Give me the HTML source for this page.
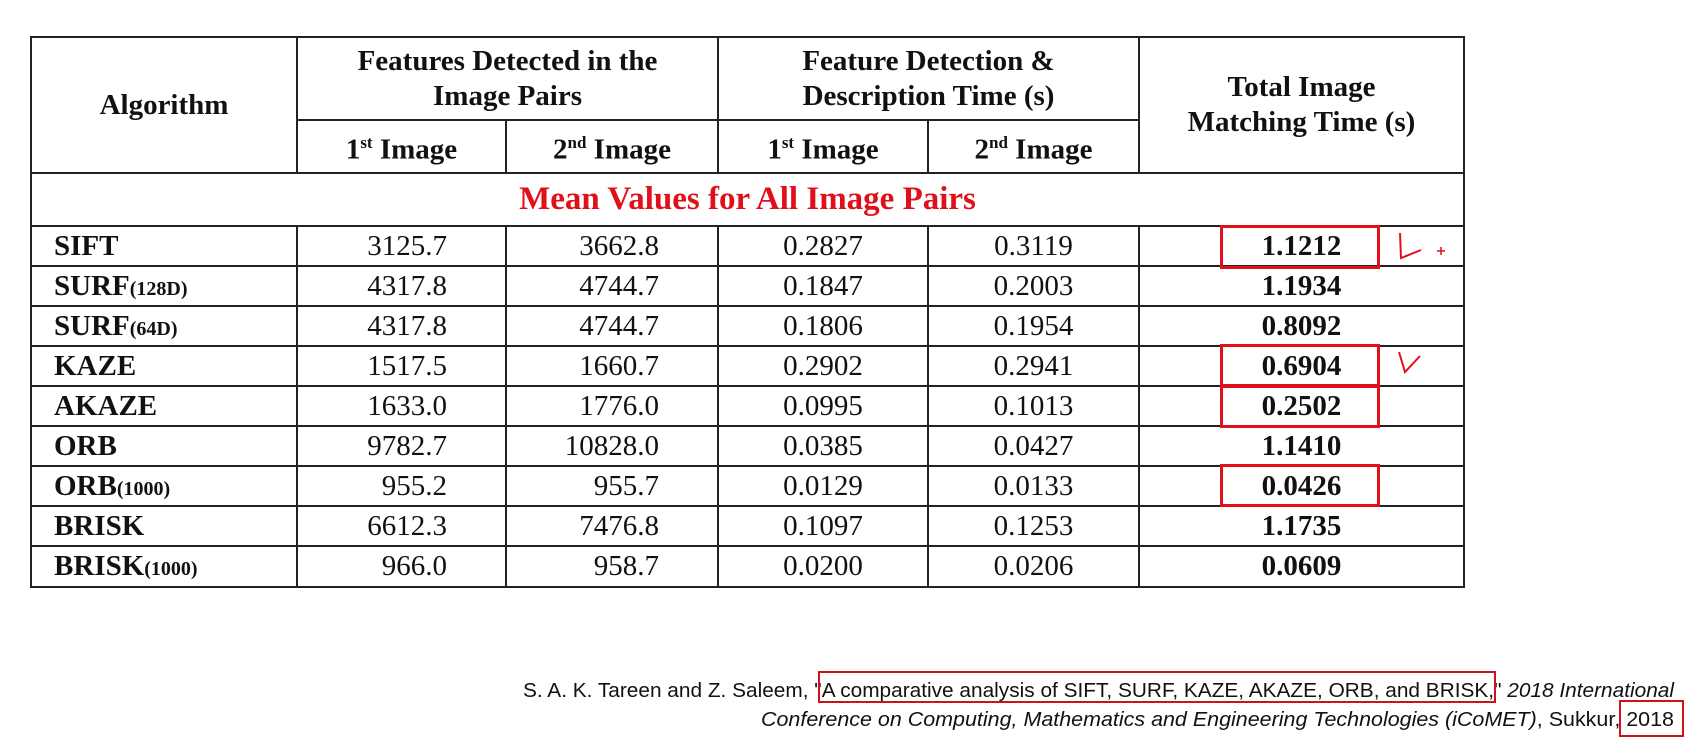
<!DOCTYPE html>
<html><head><meta charset="utf-8">
<style>
body{margin:0;width:1704px;height:744px;background:#fff;position:relative;overflow:hidden;font-family:"Liberation Serif",serif;}
.t{position:absolute;left:30px;top:36px;border-collapse:collapse;color:#111;}
.t td{border:2px solid #222;padding:0;text-align:center;font-size:29px;}
.h{font-weight:bold;font-size:30px;line-height:35px;}
.alg{text-align:left!important;padding-left:22px!important;font-weight:bold;}
.alg small{font-size:20px;}
.num{text-align:right!important;padding-right:58px!important;}
.b{font-weight:bold;}
.mean{color:#e0101a;font-weight:bold;font-size:33px!important;}
.box{position:absolute;border:3px solid #e0101a;box-sizing:border-box;}
sup{font-size:17px;}
</style></head><body>
<table class="t">
<colgroup><col style="width:266px"><col style="width:209px"><col style="width:212px"><col style="width:210px"><col style="width:211px"><col style="width:325px"></colgroup>
<tr style="height:83px"><td rowspan="2" class="h">Algorithm</td><td colspan="2" class="h">Features Detected in the<br>Image Pairs</td><td colspan="2" class="h">Feature Detection &amp;<br>Description Time (s)</td><td rowspan="2" class="h">Total Image<br>Matching Time (s)</td></tr>
<tr style="height:53px"><td class="h">1<sup>st</sup> Image</td><td class="h">2<sup>nd</sup> Image</td><td class="h">1<sup>st</sup> Image</td><td class="h">2<sup>nd</sup> Image</td></tr>
<tr style="height:53px"><td colspan="6" class="mean">Mean Values for All Image Pairs</td></tr>
<tbody id="rows"></tbody>
</table>
<div class="box" style="left:1220px;top:225px;width:160px;height:44px"></div>
<div class="box" style="left:1220px;top:344px;width:160px;height:43px"></div>
<div class="box" style="left:1220px;top:385px;width:160px;height:43px"></div>
<div class="box" style="left:1220px;top:464px;width:160px;height:43px"></div>
<svg style="position:absolute;left:0;top:0" width="1704" height="744">
<path d="M1400,233 L1401,258 L1421,250" stroke="#e0101a" stroke-width="2" fill="none"/>
<path d="M1437,251 h8 M1441,247 v8" stroke="#e0101a" stroke-width="1.5"/>
<path d="M1399,352 L1405,372 L1420,356" stroke="#e0101a" stroke-width="2" fill="none"/>
<text x="1674" y="697" text-anchor="end" font-family="Liberation Sans,sans-serif" font-size="20" fill="#111" textLength="1151" lengthAdjust="spacingAndGlyphs">S. A. K. Tareen and Z. Saleem, "A comparative analysis of SIFT, SURF, KAZE, AKAZE, ORB, and BRISK," <tspan font-style="italic">2018 International</tspan></text>
<text x="1674" y="726" text-anchor="end" font-family="Liberation Sans,sans-serif" font-size="20" fill="#111" textLength="913" lengthAdjust="spacingAndGlyphs"><tspan font-style="italic">Conference on Computing, Mathematics and Engineering Technologies (iCoMET)</tspan>, Sukkur, 2018</text>
<rect x="819" y="672" width="676" height="30" fill="none" stroke="#d0101a" stroke-width="2"/>
<rect x="1620" y="701" width="63" height="35" fill="none" stroke="#d0101a" stroke-width="2"/>
</svg>
<script>
const names=[["SIFT",""],["SURF","(128D)"],["SURF","(64D)"],["KAZE",""],["AKAZE",""],["ORB",""],["ORB","(1000)"],["BRISK",""],["BRISK","(1000)"]];
const feat1=["3125.7","4317.8","4317.8","1517.5","1633.0","9782.7","955.2","6612.3","966.0"];
const feat2=["3662.8","4744.7","4744.7","1660.7","1776.0","10828.0","955.7","7476.8","958.7"];
const time1=["0.2827","0.1847","0.1806","0.2902","0.0995","0.0385","0.0129","0.1097","0.0200"];
const time2=["0.3119","0.2003","0.1954","0.2941","0.1013","0.0427","0.0133","0.1253","0.0206"];
const total=["1.1212","1.1934","0.8092","0.6904","0.2502","1.1410","0.0426","1.1735","0.0609"];
const tb=document.getElementById('rows');
names.forEach((n,i)=>{
 const tr=document.createElement('tr');tr.style.height=(i==8?41:40)+'px';
 
 
 tr.innerHTML=`<td class="alg">${n[0]}<small>${n[1]}</small></td><td class="num">${feat1[i]}</td><td class="num">${feat2[i]}</td><td>${time1[i]}</td><td>${time2[i]}</td><td class="b">${total[i]}</td>`;
 tb.appendChild(tr);
});
</script>
</body></html>
